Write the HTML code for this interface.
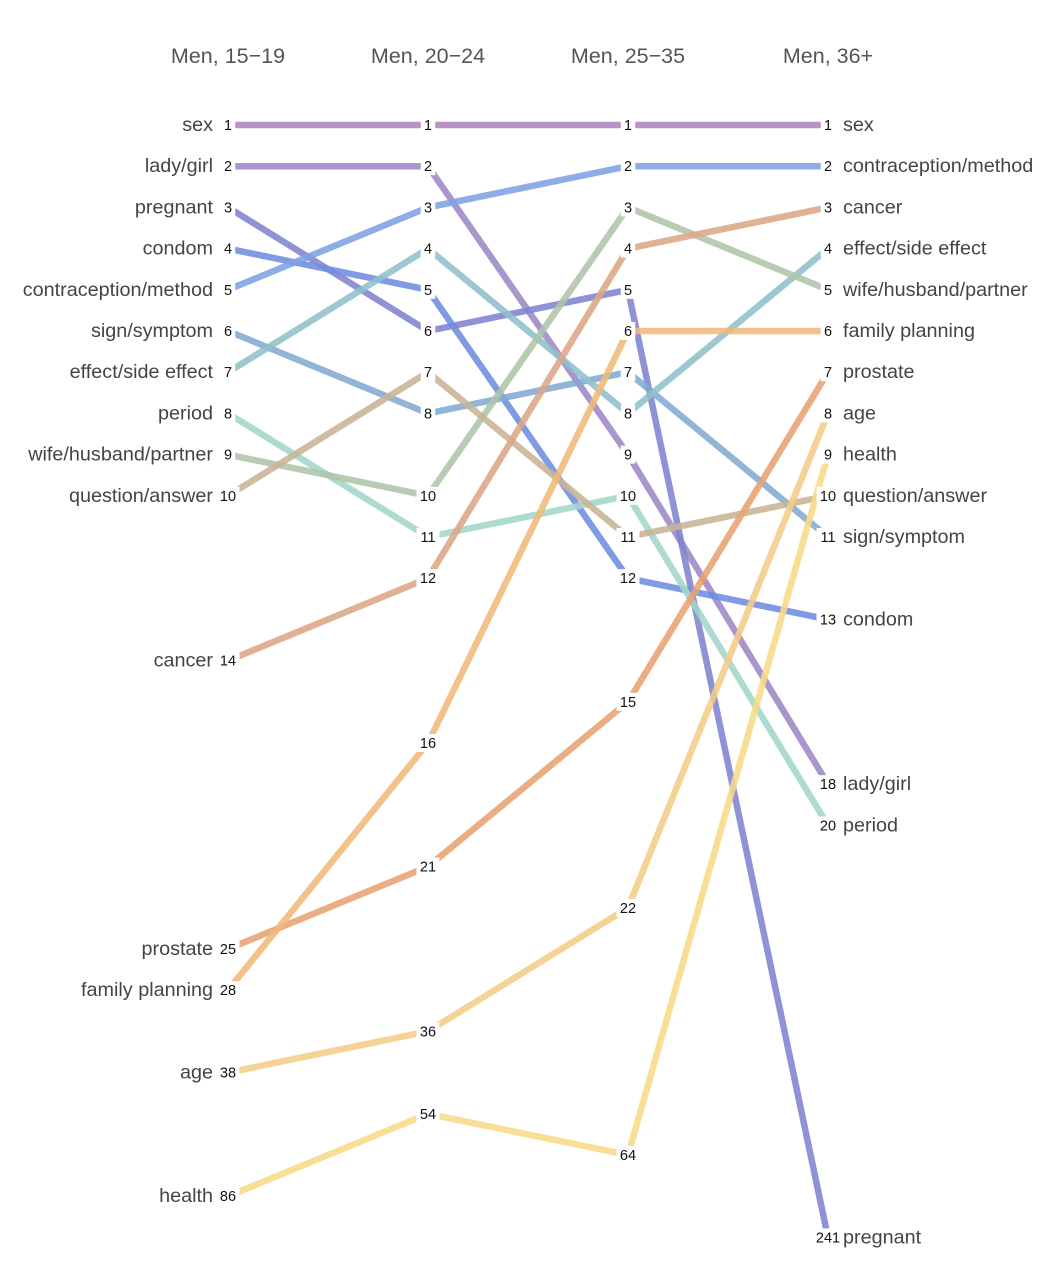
<!DOCTYPE html>
<html><head><meta charset="utf-8"><style>
body{margin:0;background:#fff}
svg text{font-family:"Liberation Sans",sans-serif}
</style></head><body>
<svg id="chart" width="1048" height="1268"></svg>
<script>
const columns = ["Men, 15\u221219","Men, 20\u221224","Men, 25\u221235","Men, 36+"];
const terms = ["sex","lady/girl","pregnant","condom","contraception/method","sign/symptom","effect/side effect","period","wife/husband/partner","question/answer","cancer","prostate","family planning","age","health"];
const ranksCol1 = [1,2,3,4,5,6,7,8,9,10,14,25,28,38,86];
const ranksCol2 = [1,2,6,5,3,8,4,11,10,7,12,21,16,36,54];
const ranksCol3 = [1,9,5,12,2,7,8,10,3,11,4,15,6,22,64];
const ranksCol4 = [1,18,241,13,2,11,4,20,5,10,3,7,6,8,9];
const colors = ["#ac84bc","#9c88c6","#8084d0","#6e8ce0","#7ea2e2","#82aad2","#90c0cc","#a2d6c8","#aec4a8","#c8b496","#dca686","#e8a272","#f0ba7a","#f4cc88","#f8da88"];
const ranks=[ranksCol1,ranksCol2,ranksCol3,ranksCol4];
const NS="http://www.w3.org/2000/svg";
const svg=document.getElementById('chart');
const colX=i=>228+i*200;
const uniq=[...new Set(ranks.flat())].sort((a,b)=>a-b);
const yPos=r=>125+uniq.indexOf(r)*41.2;
function mk(t,a){const e=document.createElementNS(NS,t);for(const k in a)e.setAttribute(k,a[k]);svg.appendChild(e);return e;}
columns.forEach((c,i)=>{const t=mk('text',{x:colX(i),y:63,'text-anchor':'middle','font-size':21.5,fill:'#555'});t.textContent=c;

});
terms.forEach((term,k)=>{
  for(let i=0;i<3;i++){
    const l=mk('line',{x1:colX(i),y1:yPos(ranks[i][k]),x2:colX(i+1),y2:yPos(ranks[i+1][k]),stroke:colors[k],'stroke-width':6.5,'stroke-opacity':0.88});
    
    
  }
});
terms.forEach((term,k)=>{
  for(let i=0;i<4;i++){
    const r=ranks[i][k];const y=yPos(r);const w=String(r).length*8.5+6;
    const bg=mk('rect',{x:colX(i)-w/2,y:y-9,width:w,height:18,fill:'#fff'});
    
    
    const t=mk('text',{x:colX(i),y:y+5,'text-anchor':'middle','font-size':14.5,fill:'#111'});t.textContent=r;
    
    
  }
  const lt=mk('text',{x:213,y:yPos(ranks[0][k])+6,'text-anchor':'end','font-size':19.8,fill:'#444'});lt.textContent=term;
  
  
  const rt=mk('text',{x:843,y:yPos(ranks[3][k])+6,'text-anchor':'start','font-size':19.8,fill:'#444'});rt.textContent=term;
  
  
});
</script>
</body></html>
